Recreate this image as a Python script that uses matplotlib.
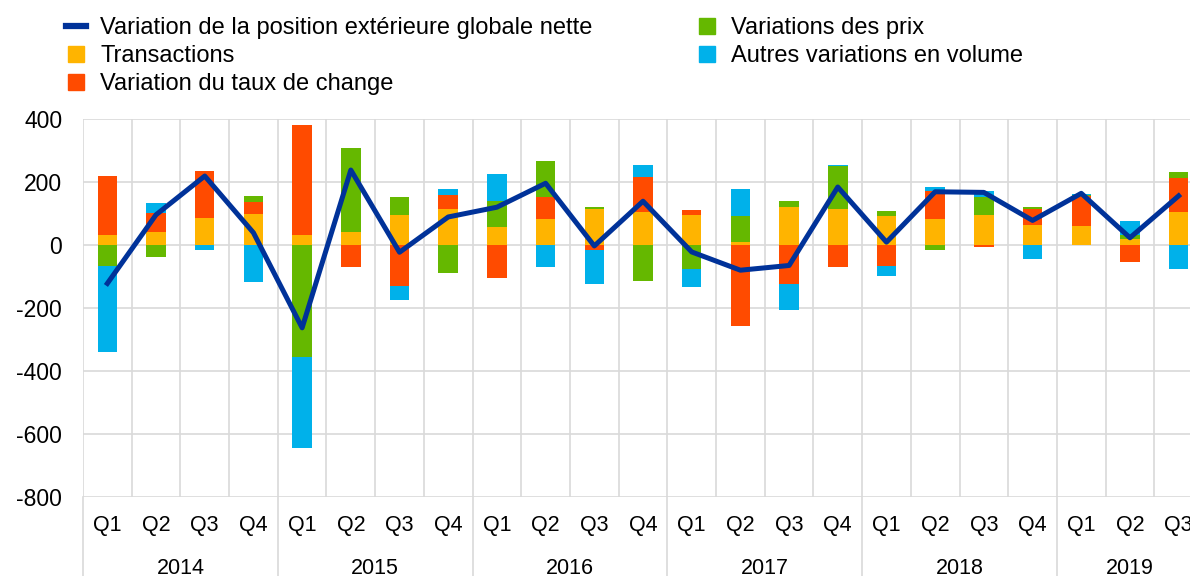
import matplotlib.pyplot as plt
import numpy as np
from matplotlib.lines import Line2D

plt.rcParams['font.family'] = ['Liberation Sans', 'DejaVu Sans']
plt.rcParams['axes.unicode_minus'] = False

quarters = ["Q1", "Q2", "Q3", "Q4"] * 5 + ["Q1", "Q2", "Q3"]
years = ["2014", "2015", "2016", "2017", "2018", "2019"]

# EUR bn
transactions = [32, 42, 86, 97, 32, 40, 94, 114, 57, 83, 114, 105,
                95, 8, 122, 114, 92, 81, 95, 63, 60, 18, 105]
taux_change = [187, 61, 149, 39, 348, -69, -130, 46, -105, 70, -15, 110,
               16, -257, -124, -69, -66, 89, -5, 50, 97, -53, 109]
prix = [-67, -37, 0, 20, -354, 267, 59, -88, 83, 114, 6, -114,
        -76, 84, 19, 136, 15, -15, 57, 8, 3, 14, 18]
autres_volume = [-274, 30, -16, -117, -289, 0, -46, 17, 85, -71, -108, 38,
                 -57, 85, -82, 3, -32, 14, 20, -43, 2, 44, -76]
pegn = [-122, 96, 219, 39, -263, 238, -23, 89, 120, 196, -3, 139,
        -22, -80, -65, 184, 9, 169, 167, 78, 164, 23, 156]

col_line = "#003299"
col_trans = "#FFB400"
col_fx = "#FF4B00"
col_prix = "#65B800"
col_vol = "#00B1EA"
grid_col = "#d9d9d9"

fig = plt.figure(figsize=(11.9, 5.76), dpi=100)
ax = fig.add_axes([83 / 1190, 79 / 576, 1120 / 1190, 378 / 576])

n = len(quarters)
x = np.arange(n) + 0.5
series = [(transactions, col_trans), (taux_change, col_fx),
          (prix, col_prix), (autres_volume, col_vol)]
pos_base = np.zeros(n)
neg_base = np.zeros(n)
for vals, c in series:
    v = np.array(vals, dtype=float)
    pos = np.where(v > 0, v, 0)
    neg = np.where(v < 0, v, 0)
    ax.bar(x, pos, 0.4, bottom=pos_base, color=c, zorder=2)
    ax.bar(x, neg, 0.4, bottom=neg_base, color=c, zorder=2)
    pos_base += pos
    neg_base += neg

ax.plot(x, pegn, color=col_line, lw=3.6, zorder=3)

ax.set_xlim(0, 23)
ax.set_ylim(-800, 400)
ax.set_yticks(range(-800, 401, 200))
ax.set_xticks([])
for s in ax.spines.values():
    s.set_visible(False)
ax.tick_params(axis='y', length=0, pad=15, labelsize=16.5)
for yv in range(-800, 401, 200):
    ax.axhline(yv, color=grid_col, lw=1.2, zorder=0)
for i in range(n + 1):
    ax.axvline(i, color=grid_col, lw=1.2, zorder=0)

trans = ax.get_xaxis_transform()
for i, q in enumerate(quarters):
    ax.text(i + 0.5, -28 / 378, q, transform=trans, ha='center', va='center',
            fontsize=15.5)
for k, yr in enumerate(years):
    start = 4 * k
    end = min(4 * k + 4, n)
    ax.text((start + end) / 2, -72 / 378, yr, transform=trans, ha='center',
            va='center', fontsize=15.5)
    ax.plot([start, start], [0, -80 / 378], transform=trans, color=grid_col,
            lw=1.2, clip_on=False)

handles = [Line2D([0], [0], color=col_line, lw=4.5),
           Line2D([], [], ls='', marker='s', markersize=12, color=col_trans),
           Line2D([], [], ls='', marker='s', markersize=12, color=col_fx),
           Line2D([], [], ls='', marker='s', markersize=12, color=col_prix),
           Line2D([], [], ls='', marker='s', markersize=12, color=col_vol)]
labels = ["Variation de la position extérieure globale nette", "Transactions",
          "Variation du taux de change", "Variations des prix",
          "Autres variations en volume"]
fig.legend(handles, labels, ncol=2, loc='upper left',
           bbox_to_anchor=(0.0376, 1.007), frameon=False, fontsize=17,
           handlelength=0.85, handletextpad=0.6, labelspacing=0.25,
           columnspacing=4.4)

fig.savefig("out.png", dpi=100)
